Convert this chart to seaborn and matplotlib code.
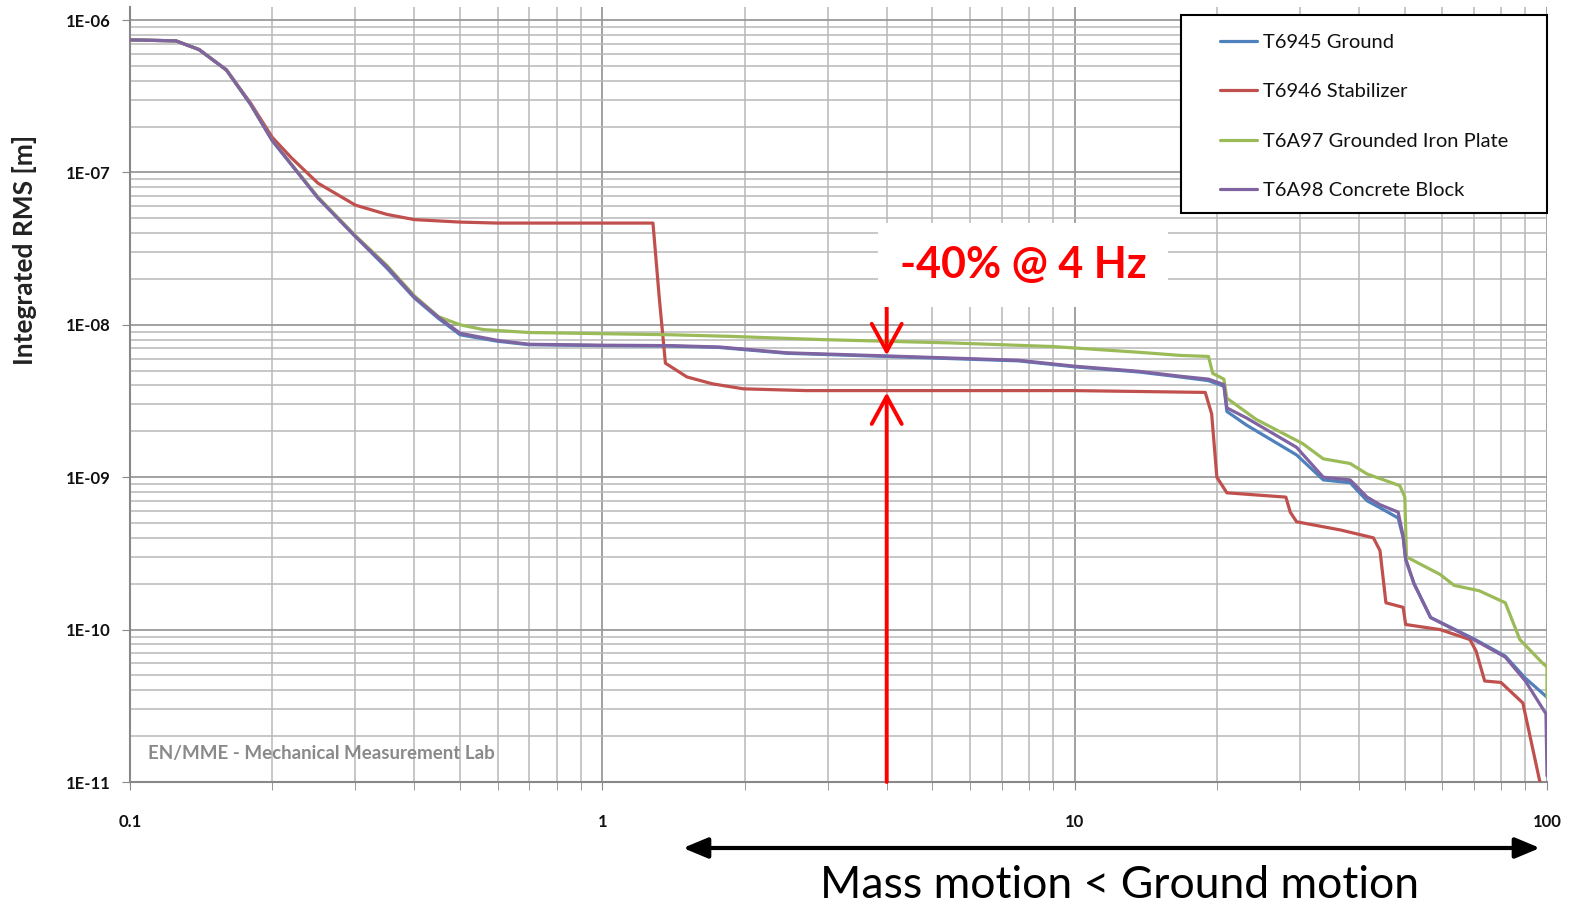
import matplotlib.pyplot as plt
import pandas as pd
import seaborn as sns
from matplotlib.patches import FancyArrowPatch, Rectangle
from matplotlib.ticker import FixedLocator, LogLocator, NullFormatter

# Integrated RMS curves (frequency in Hz, RMS in m)
freq_ground = [0.1, 0.125, 0.14, 0.16, 0.18, 0.2, 0.25, 0.3, 0.35, 0.4, 0.45, 0.5, 0.6, 0.7, 1.0,
               1.4, 1.77, 2.46, 4.0, 7.6, 10, 13.7, 16.7, 19.2, 20.7, 21.0, 23.1, 29.5, 33.6, 38.3,
               41.6, 44.3, 48.4, 49.6, 50.2, 52.3, 56.7, 70, 81.6, 90, 100]
rms_ground = [7.4e-7, 7.3e-7, 6.4e-7, 4.7e-7, 2.8e-7, 1.62e-7, 6.8e-8, 3.8e-8, 2.35e-8, 1.5e-8,
              1.1e-8, 8.6e-9, 7.8e-9, 7.4e-9, 7.3e-9, 7.25e-9, 7.1e-9, 6.5e-9, 6.2e-9, 5.8e-9,
              5.3e-9, 4.9e-9, 4.55e-9, 4.3e-9, 3.95e-9, 2.7e-9, 2.2e-9, 1.4e-9, 9.6e-10, 9.2e-10,
              7.0e-10, 6.3e-10, 5.4e-10, 4.0e-10, 2.9e-10, 2.0e-10, 1.2e-10, 8.7e-11, 6.7e-11,
              4.8e-11, 3.6e-11]

freq_stab = [0.1, 0.125, 0.14, 0.16, 0.18, 0.2, 0.22, 0.25, 0.3, 0.35, 0.4, 0.5, 0.6, 1.0, 1.28,
             1.32, 1.36, 1.51, 1.71, 1.99, 2.7, 10, 18.9, 19.5, 20.0, 21.0, 28.0, 28.6, 29.5, 36.6,
             42.9, 44.3, 45.6, 49.6, 50.2, 59.4, 68.7, 70.8, 73.8, 79.9, 88.9, 96.6]
rms_stab = [7.4e-7, 7.3e-7, 6.4e-7, 4.7e-7, 2.85e-7, 1.7e-7, 1.24e-7, 8.5e-8, 6.1e-8, 5.3e-8,
            4.9e-8, 4.72e-8, 4.65e-8, 4.65e-8, 4.65e-8, 1.5e-8, 5.6e-9, 4.55e-9, 4.1e-9, 3.8e-9,
            3.7e-9, 3.7e-9, 3.6e-9, 2.6e-9, 1.0e-9, 7.9e-10, 7.4e-10, 5.9e-10, 5.1e-10, 4.5e-10,
            4.0e-10, 3.3e-10, 1.5e-10, 1.4e-10, 1.08e-10, 1.0e-10, 8.6e-11, 7.2e-11, 4.6e-11,
            4.5e-11, 3.3e-11, 1.0e-11]

freq_iron = [0.1, 0.125, 0.14, 0.16, 0.18, 0.2, 0.25, 0.3, 0.35, 0.4, 0.45, 0.5, 0.56, 0.7, 1.4,
             1.86, 2.9, 5.5, 9.0, 13.7, 16.7, 19.2, 19.6, 20.7, 21.0, 24.2, 30.4, 33.6, 38.3, 41.6,
             48.8, 50.0, 50.4, 59.4, 63.6, 71.8, 81.6, 87.6, 98, 100, 100]
rms_iron = [7.4e-7, 7.3e-7, 6.4e-7, 4.7e-7, 2.8e-7, 1.62e-7, 6.9e-8, 3.85e-8, 2.45e-8, 1.55e-8,
            1.13e-8, 1.0e-8, 9.3e-9, 8.9e-9, 8.6e-9, 8.4e-9, 8.0e-9, 7.6e-9, 7.2e-9, 6.6e-9,
            6.3e-9, 6.2e-9, 4.8e-9, 4.4e-9, 3.3e-9, 2.4e-9, 1.66e-9, 1.32e-9, 1.23e-9, 1.05e-9,
            8.8e-10, 7.4e-10, 3.0e-10, 2.3e-10, 1.95e-10, 1.8e-10, 1.5e-10, 8.6e-11, 6.0e-11,
            5.7e-11, 3.6e-11]

freq_block = [0.1, 0.125, 0.14, 0.16, 0.18, 0.2, 0.25, 0.3, 0.35, 0.4, 0.45, 0.5, 0.6, 0.7, 1.0,
              1.4, 1.77, 2.46, 4.0, 7.6, 10, 13.7, 16.7, 19.2, 20.7, 21.0, 23.1, 29.5, 33.6, 38.3,
              41.6, 44.3, 48.4, 49.6, 50.2, 52.3, 56.7, 70, 81.6, 90, 99.5, 100]
rms_block = [7.4e-7, 7.3e-7, 6.4e-7, 4.7e-7, 2.8e-7, 1.62e-7, 6.8e-8, 3.8e-8, 2.4e-8, 1.52e-8,
             1.12e-8, 8.8e-9, 7.9e-9, 7.45e-9, 7.35e-9, 7.3e-9, 7.15e-9, 6.55e-9, 6.25e-9, 5.85e-9,
             5.35e-9, 4.95e-9, 4.6e-9, 4.4e-9, 4.05e-9, 2.85e-9, 2.45e-9, 1.57e-9, 1.0e-9, 9.6e-10,
             7.4e-10, 6.6e-10, 5.9e-10, 4.1e-10, 2.9e-10, 2.0e-10, 1.2e-10, 8.6e-11, 6.6e-11,
             4.6e-11, 2.8e-11, 1.1e-11]

series_names = ['T6945 Ground', 'T6946 Stabilizer', 'T6A97 Grounded Iron Plate', 'T6A98 Concrete Block']
series_colors = ['#4F81BD', '#C0504D', '#9BBB59', '#8064A2']

x_ticks = [0.1, 1, 10, 100]
x_tick_labels = ['0.1', '1', '10', '100']
y_ticks = [1e-11, 1e-10, 1e-9, 1e-8, 1e-7, 1e-6]
y_tick_labels = ['1E-11', '1E-10', '1E-09', '1E-08', '1E-07', '1E-06']

df = pd.concat([
    pd.DataFrame({'freq': f, 'rms': r, 'series': n})
    for f, r, n in zip([freq_ground, freq_stab, freq_iron, freq_block],
                       [rms_ground, rms_stab, rms_iron, rms_block], series_names)
])

sns.set_style('white')
plt.rcParams['font.family'] = ['Lato', 'DejaVu Sans']

W, H = 1569, 909
fig = plt.figure(figsize=(W / 100, H / 100), dpi=100)
ax = fig.add_axes([130 / W, 1 - 782 / H, (1547 - 130) / W, (782 - 7) / H])

for name, color in zip(series_names, series_colors):
    sns.lineplot(data=df[df['series'] == name], x='freq', y='rms', color=color, lw=2.3,
                 estimator=None, sort=False, ax=ax, label=name, zorder=3)

ax.set_xscale('log')
ax.set_yscale('log')
ax.set_xlim(0.1, 100)
ax.set_ylim(1e-11, 1e-6 * 10 ** (13 / 152.4))

ax.xaxis.set_major_locator(FixedLocator(x_ticks))
ax.set_xticklabels(x_tick_labels)
ax.xaxis.set_minor_locator(LogLocator(base=10, subs=range(2, 10)))
ax.xaxis.set_minor_formatter(NullFormatter())
ax.yaxis.set_major_locator(FixedLocator(y_ticks))
ax.set_yticklabels(y_tick_labels)
ax.yaxis.set_minor_locator(LogLocator(base=10, subs=range(2, 10)))
ax.yaxis.set_minor_formatter(NullFormatter())

ax.tick_params(axis='x', which='both', direction='out', length=6, color='#888888', pad=17,
               labelsize=12, bottom=True)
ax.tick_params(axis='y', which='major', direction='out', length=6, color='#888888', pad=8,
               labelsize=12, left=True)
ax.tick_params(axis='y', which='minor', length=0)
for lab in ax.get_xticklabels() + ax.get_yticklabels():
    lab.set_fontweight('bold')
    lab.set_color('#111111')

ax.grid(which='major', color='#9a9a9a', lw=1.3, zorder=0)
ax.grid(which='minor', color='#b8b8b8', lw=1.1, zorder=0)
ax.set_axisbelow(True)
for s in ['top', 'right']:
    ax.spines[s].set_visible(False)
for s in ['left', 'bottom']:
    ax.spines[s].set_color('#888888')
    ax.spines[s].set_linewidth(1.5)

ax.set_xlabel('')
ax.set_ylabel('Integrated RMS [m]', fontsize=19, fontweight='bold', color='#222222')
ax.yaxis.label.set_va('center')
ax.yaxis.set_label_coords((25 - 130) / 1417, (782 - 250) / 775)

# legend: drawn at figure level over a plain white box
handles, labels = ax.get_legend_handles_labels()
ax.get_legend().remove()
fig.add_artist(Rectangle((1181 / W, 1 - 213 / H), (1547 - 1181) / W, (213 - 15) / H,
                         transform=fig.transFigure, fc='white', ec='black', lw=1.5, zorder=4))
leg = fig.legend(handles, labels, loc='upper left', bbox_to_anchor=(1220 / W, 1 - 34 / H),
                 bbox_transform=fig.transFigure, fontsize=14.5, frameon=False,
                 handlelength=1.85, handletextpad=0.28, labelspacing=1.6, borderpad=0,
                 borderaxespad=0)
leg.set_zorder(5)
for t in leg.get_texts():
    t.set_color('#111111')

ax.text((148 - 130) / 1417, (782 - 754) / 775, 'EN/MME - Mechanical Measurement Lab',
        transform=ax.transAxes, va='center', fontsize=13.5, fontweight='bold', color='#8a8a8a',
        zorder=4)

# -40% annotation
fig.text(1023 / W, 1 - 265 / H, '-40% @ 4 Hz', ha='center', va='center', fontsize=31,
         fontweight='bold', color='#ff0000', zorder=6,
         bbox=dict(boxstyle='square,pad=0.5', fc='white', ec='none'))
ax.annotate('', xy=(4, 6.3e-9), xytext=(4, 1.41e-8),
            arrowprops=dict(arrowstyle='->,head_length=0.55,head_width=0.3', color='#ff0000',
                            lw=2.8, mutation_scale=36, shrinkA=0, shrinkB=0), zorder=6)
ax.annotate('', xy=(4, 3.6e-9), xytext=(4, 1e-11),
            arrowprops=dict(arrowstyle='->,head_length=0.55,head_width=0.3', color='#ff0000',
                            lw=2.8, mutation_scale=36, shrinkA=0, shrinkB=0), zorder=6)

# bottom range arrow
fig.add_artist(FancyArrowPatch(
    (683 / W, 1 - 848 / H), (1540 / W, 1 - 848 / H), transform=fig.transFigure,
    arrowstyle='<|-|>,head_length=0.6,head_width=0.25', mutation_scale=25, lw=3,
    color='black', shrinkA=0, shrinkB=0))
fig.text(1120 / W, 1 - 886 / H, 'Mass motion < Ground motion', ha='center', va='center',
         fontsize=32, color='black')

fig.savefig('out.png', dpi=100)
